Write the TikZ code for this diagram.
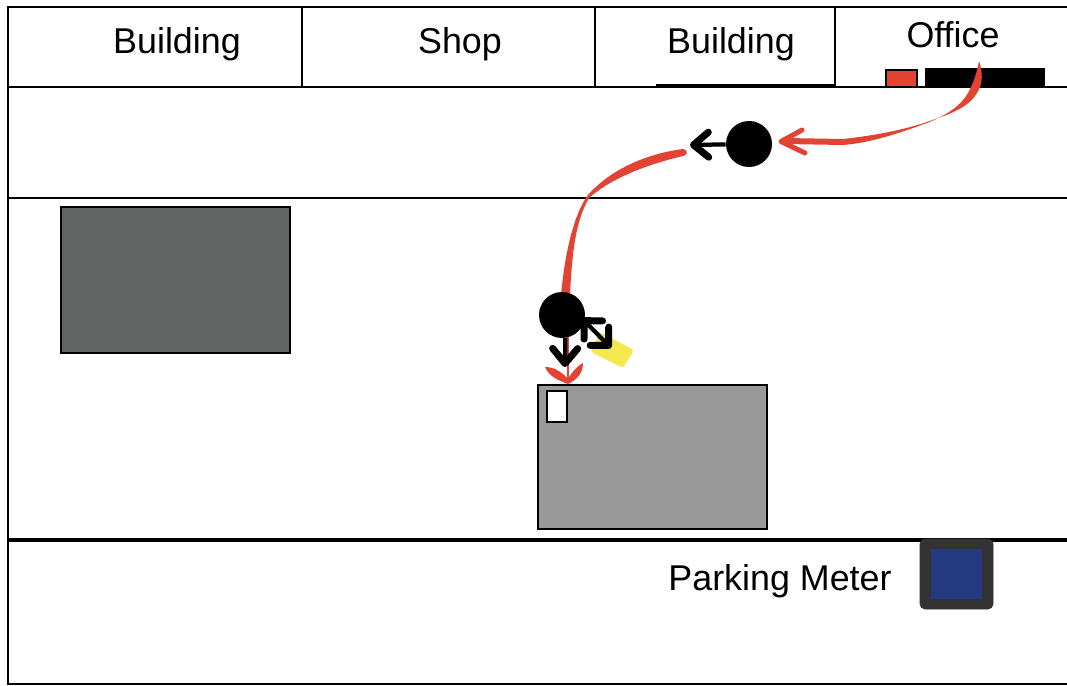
\documentclass[tikz,border=0pt]{standalone}
\usepackage{fontspec}
\setmainfont{Liberation Sans}
\usetikzlibrary{arrows.meta}
\definecolor{route}{RGB}{226,67,51}
\definecolor{darkcar}{RGB}{99,101,100}
\definecolor{lightcar}{RGB}{153,153,153}
\definecolor{tag}{RGB}{244,232,78}
\definecolor{meterbody}{RGB}{51,51,51}
\definecolor{meterface}{RGB}{36,58,128}
\tikzset{
  wall/.style={line width=0.055cm},
  person/.style={circle, fill=black, inner sep=0pt, minimum size=0.92cm},
  walk/.style={line width=0.085cm, -{Straight Barb[length=0.3cm, width=0.5cm, round, line width=0.14cm]}},
  walkboth/.style={line width=0.085cm, {Straight Barb[length=0.26cm, width=0.52cm, round, line width=0.14cm]}-{Straight Barb[length=0.26cm, width=0.52cm, round, line width=0.14cm]}}
}
\begin{document}
\begin{tikzpicture}[font=\fontsize{20.4pt}{24pt}\selectfont]
\useasboundingbox (0,0) rectangle (21.34,-13.72);
\draw[wall] (21.34,-0.14) -- (0.16,-0.14) -- (0.16,-13.68) -- (21.34,-13.68);
\draw[wall] (0.16,-1.74) -- (21.34,-1.74);
\draw[wall] (0.16,-3.96) -- (21.34,-3.96);
\draw[line width=0.09cm] (0.16,-10.80) -- (21.34,-10.80);
\draw[wall] (6.04,-0.14) -- (6.04,-1.74);
\draw[wall] (11.90,-0.14) -- (11.90,-1.74);
\draw[wall] (16.70,-0.14) -- (16.70,-1.74);
\draw[wall] (13.12,-1.71) -- (16.70,-1.71);
\node (building1) at (3.54,-0.88) {Building};
\node (shop) at (9.20,-0.88) {Shop};
\node (building2) at (14.62,-0.88) {Building};
\node (office) at (19.06,-0.70) {Office};
\filldraw[fill=route, draw=black, wall] (17.72,-1.74) rectangle (18.34,-1.40);
\fill[black] (18.50,-1.74) rectangle (20.90,-1.37);
\filldraw[fill=darkcar, draw=black, wall] (1.22,-4.14) rectangle (5.80,-7.06);
\filldraw[fill=lightcar, draw=black, wall] (10.76,-7.70) rectangle (15.34,-10.58);
\filldraw[fill=white, draw=black, wall] (10.94,-7.82) rectangle (11.34,-8.44);
\fill[tag, rounded corners=0.06cm] (12.00,-6.64) -- (12.68,-7.00) -- (12.46,-7.36) -- (11.82,-7.04) -- cycle;
\fill[route] (19.58,-1.22) .. controls (19.66,-1.44) and (19.66,-1.68) .. (19.54,-1.86) .. controls (19.36,-2.16) and (19.00,-2.28) .. (18.54,-2.44) .. controls (18.00,-2.62) and (17.40,-2.72) .. (16.86,-2.78) -- (15.70,-2.76) -- (15.70,-2.88) -- (16.86,-2.90) .. controls (17.40,-2.86) and (18.00,-2.66) .. (18.54,-2.46) .. controls (18.96,-2.30) and (19.24,-2.08) .. (19.36,-1.86) .. controls (19.48,-1.64) and (19.54,-1.44) .. (19.58,-1.22) -- cycle;
\draw[route, line width=0.1cm, line cap=round, line join=round] (16.04,-2.60) -- (15.62,-2.83) -- (16.10,-3.06);
\fill[route] (13.66,-2.98) .. controls (12.90,-3.08) and (12.20,-3.40) .. (11.76,-3.90) .. controls (11.50,-4.24) and (11.30,-5.00) .. (11.22,-5.90) -- (11.40,-5.90) .. controls (11.44,-5.10) and (11.50,-4.44) .. (11.78,-3.96) .. controls (12.20,-3.58) and (12.90,-3.30) .. (13.66,-3.12) .. controls (13.76,-3.12) and (13.76,-2.98) .. (13.66,-2.98) -- cycle;
\draw[route, line width=0.04cm] (11.36,-6.70) -- (11.36,-7.66);
\fill[route] (10.90,-7.34) .. controls (11.08,-7.34) and (11.24,-7.44) .. (11.36,-7.58) -- (11.36,-7.68) .. controls (11.20,-7.62) and (10.98,-7.54) .. cycle;
\fill[route] (11.66,-7.26) .. controls (11.54,-7.32) and (11.44,-7.44) .. (11.36,-7.58) -- (11.36,-7.68) .. controls (11.52,-7.60) and (11.66,-7.48) .. cycle;
\node[person] (person1) at (14.98,-2.88) {};
\node[person] (person2) at (11.24,-6.30) {};
\coordinate (left1) at (13.80,-2.90);
\coordinate (down2) at (11.30,-7.34);
\coordinate (tag2) at (12.22,-6.96);
\draw[walk] (person1) -- (left1);
\draw[walk] (person2.-82) -- (down2);
\draw[walkboth, shorten <=-0.08cm] (person2.-15) -- (tag2);
\node (meterlabel) at (15.60,-11.62) {Parking Meter};
\filldraw[fill=meterbody, draw=meterbody, rounded corners=0.1cm] (18.40,-10.78) rectangle (19.86,-12.18);
\fill[meterface] (18.62,-10.98) rectangle (19.64,-11.98);
\end{tikzpicture}
\end{document}
